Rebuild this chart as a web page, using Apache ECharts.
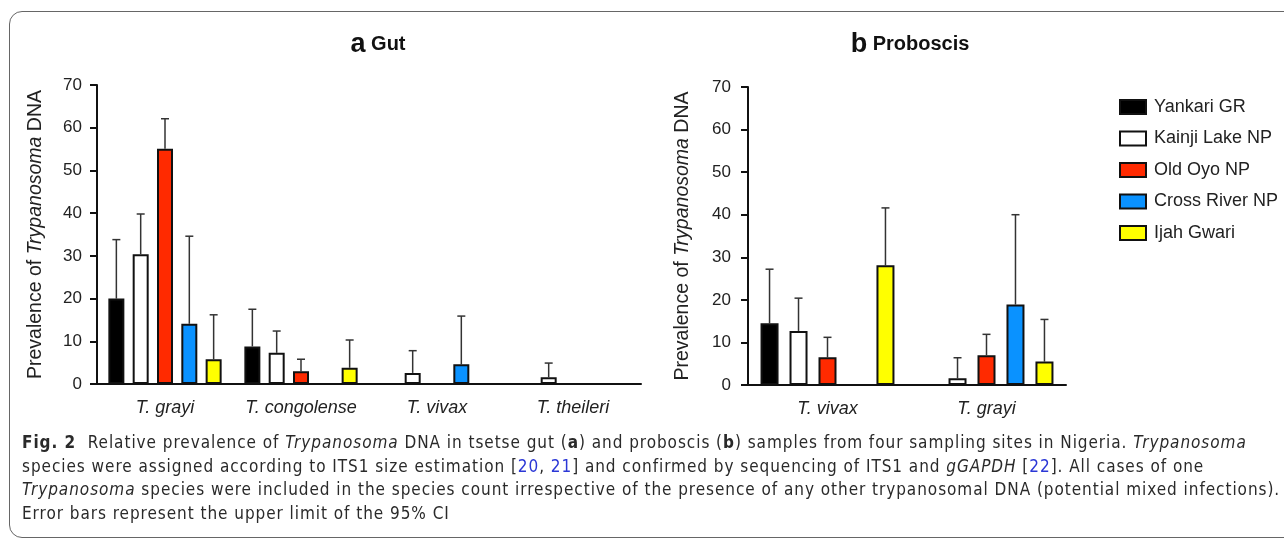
<!DOCTYPE html>
<html>
<head>
<meta charset="utf-8">
<script src="https://cdn.jsdelivr.net/npm/echarts@6/dist/echarts.min.js"></script>
<style>
    html, body { margin: 0; padding: 0; background: #fff; }
    #wrap { position: relative; width: 1284px; height: 540px; overflow: hidden; }
    #frame { position: absolute; left: 9px; top: 11px; width: 1320px; height: 527px;
             border: 1.5px solid #666; border-radius: 13px; box-sizing: border-box; }
    #chart { position: absolute; left: 0; top: 0; width: 1284px; height: 540px; }
    #caption { position: absolute; left: 22px; top: 431px; white-space: nowrap;
               font-family: 'Liberation Sans Narrow', 'DejaVu Sans Condensed', sans-serif;
               font-size: 17px; letter-spacing: 0.95px; line-height: 23.5px; color: #2a2a2a; }
    #caption a { color: #2b37d6; text-decoration: none; }
</style>
</head>
<body>
<div id="wrap">
    <div id="frame"></div>
    <div id="chart"></div>
    <div id="caption">
        <b>Fig. 2</b>&nbsp; Relative prevalence of <i>Trypanosoma</i> DNA in tsetse gut (<b>a</b>) and proboscis (<b>b</b>) samples from four sampling sites in Nigeria. <i>Trypanosoma</i><br>
        species were assigned according to ITS1 size estimation [<a>20</a>, <a>21</a>] and confirmed by sequencing of ITS1 and <i>gGAPDH</i> [<a>22</a>]. All cases of one<br>
        <i>Trypanosoma</i> species were included in the species count irrespective of the presence of any other trypanosomal DNA (potential mixed infections).<br>
        Error bars represent the upper limit of the 95% CI
    </div>
</div>
<script>
    // sampling sites
    let siteNames = ['Yankari GR', 'Kainji Lake NP', 'Old Oyo NP', 'Cross River NP', 'Ijah Gwari']
    let siteColors = ['#000000', '#ffffff', '#ff2a00', '#0a92ff', '#ffff00']

    // a Gut
    let gutSpecies = ['T. grayi', 'T. congolense', 'T. vivax', 'T. theileri']
    let gutYankari = [20, 8.8, 0, 0]
    let gutKainji = [30.4, 7.3, 2.6, 1.6]
    let gutOldOyo = [55.1, 3.0, 0, 0]
    let gutCrossRiver = [14.1, 0, 4.6, 0]
    let gutIjah = [5.8, 3.8, 0, 0]
    // upper limit of 95% CI
    let gutYankariCI = [33.8, 17.5, 0, 0]
    let gutKainjiCI = [39.8, 12.4, 7.8, 4.9]
    let gutOldOyoCI = [62.1, 5.8, 0, 0]
    let gutCrossRiverCI = [34.6, 0, 15.9, 0]
    let gutIjahCI = [16.2, 10.3, 0, 0]

    // b Proboscis
    let probSpecies = ['T. vivax', 'T. grayi']
    let probYankari = [14.5, 0]
    let probKainji = [12.7, 1.6]
    let probOldOyo = [6.5, 7.0]
    let probCrossRiver = [0, 18.9]
    let probIjah = [28.1, 5.5]
    let probYankariCI = [27.2, 0]
    let probKainjiCI = [20.4, 6.4]
    let probOldOyoCI = [11.2, 11.9]
    let probCrossRiverCI = [0, 40.0]
    let probIjahCI = [41.6, 15.4]

    let yTicks = { min: 0, max: 70, interval: 10 }

    let gutValues = [gutYankari, gutKainji, gutOldOyo, gutCrossRiver, gutIjah]
    let gutCI = [gutYankariCI, gutKainjiCI, gutOldOyoCI, gutCrossRiverCI, gutIjahCI]
    let probValues = [probYankari, probKainji, probOldOyo, probCrossRiver, probIjah]
    let probCI = [probYankariCI, probKainjiCI, probOldOyoCI, probCrossRiverCI, probIjahCI]

    const FONT = 'Liberation Sans, Arial, sans-serif'
    const panels = [
        { values: gutValues, ci: gutCI, barWidth: 16, barGap: '52%' },
        { values: probValues, ci: probCI, barWidth: 18, barGap: '61%' }
    ]

    let series = []
    panels.forEach((p, k) => {
        siteNames.forEach((name, i) => {
            series.push({
                name: name,
                type: 'bar',
                xAxisIndex: k,
                yAxisIndex: k,
                barWidth: p.barWidth,
                barGap: p.barGap,
                itemStyle: { color: siteColors[i], borderColor: '#111', borderWidth: 2 },
                data: p.values[i].map(v => v > 0 ? v : '-')
            })
        })
        // error bars: upper limit only
        let errData = []
        p.ci.forEach((arr, i) => {
            arr.forEach((up, c) => {
                if (up > 0) errData.push([c, i, p.values[i][c], up])
            })
        })
        series.push({
            type: 'custom',
            xAxisIndex: k,
            yAxisIndex: k,
            z: 1,
            silent: true,
            data: errData,
            renderItem: function (params, api) {
                let layouts = api.barLayout({ barWidth: p.barWidth, barGap: p.barGap, count: 5 })
                let c = api.value(0)
                let s = api.value(1)
                let base = api.coord([c, api.value(2)])
                let top = api.coord([c, api.value(3)])
                let x = base[0] + layouts[s].offsetCenter
                let style = { stroke: '#333', lineWidth: 1.5 }
                return {
                    type: 'group',
                    children: [
                        { type: 'line', shape: { x1: x, y1: base[1], x2: x, y2: top[1] }, style: style },
                        { type: 'line', shape: { x1: x - 4, y1: top[1], x2: x + 4, y2: top[1] }, style: style }
                    ]
                }
            }
        })
    })

    function yAxisFor(k, gap, margin) {
        return {
            type: 'value',
            gridIndex: k,
            min: yTicks.min,
            max: yTicks.max,
            interval: yTicks.interval,
            name: '{n|Prevalence of }{i|Trypanosoma}{n| DNA}',
            nameLocation: 'middle',
            nameGap: gap,
            nameTextStyle: {
                rich: {
                    n: { fontSize: 19.5, fontFamily: FONT, color: '#222' },
                    i: { fontSize: 19.5, fontFamily: FONT, fontStyle: 'italic', color: '#222' }
                }
            },
            axisLine: { show: true, lineStyle: { color: '#111', width: 2 } },
            axisTick: { show: true, length: 7, lineStyle: { color: '#111', width: 2 } },
            axisLabel: { margin: margin, fontSize: 17, fontFamily: FONT, color: '#222' },
            splitLine: { show: false }
        }
    }

    function xAxisFor(k, data) {
        return {
            type: 'category',
            gridIndex: k,
            data: data,
            axisLine: { lineStyle: { color: '#111', width: 2 } },
            axisTick: { alignWithLabel: true, interval: 0, length: 9, lineStyle: { color: '#111', width: 2 } },
            axisLabel: { interval: 0, margin: 15, fontSize: 18, fontFamily: FONT, fontStyle: 'italic', color: '#222' }
        }
    }

    let titleRich = {
        a: { fontSize: 27, fontWeight: 'bold', fontFamily: FONT, color: '#111' },
        b: { fontSize: 20, fontWeight: 'bold', fontFamily: FONT, color: '#111' }
    }

    let chart = echarts.init(document.getElementById('chart'))
    chart.setOption({
        animation: false,
        title: [
            { text: '{a|a}{b| Gut}', left: 373, top: 26, textAlign: 'center', textStyle: { rich: titleRich } },
            { text: '{a|b}{b| Proboscis}', left: 905, top: 26, textAlign: 'center', textStyle: { rich: titleRich } }
        ],
        legend: {
            orient: 'vertical',
            left: 1114,
            top: 93,
            itemWidth: 26,
            itemHeight: 14,
            itemGap: 13.5,
            icon: 'rect',
            data: siteNames,
            textStyle: { fontSize: 18, fontFamily: FONT, color: '#222', padding: [0, 0, 0, 3] }
        },
        grid: [
            { left: 97, top: 85, width: 544, height: 299 },
            { left: 748, top: 87, width: 318, height: 298 }
        ],
        xAxis: [xAxisFor(0, gutSpecies), xAxisFor(1, probSpecies)],
        yAxis: [yAxisFor(0, 51, 15), yAxisFor(1, 55, 17)],
        series: series
    })
</script>
</body>
</html>
